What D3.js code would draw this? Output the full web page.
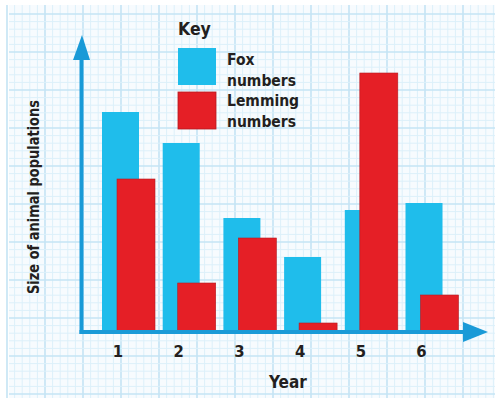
<!DOCTYPE html>
<html><head><meta charset="utf-8">
<script src="https://cdn.jsdelivr.net/npm/d3@7"></script>
<style>
html,body{margin:0;padding:0;background:#fff;}
svg{display:block;}
text{font-family:"DejaVu Sans Condensed","Liberation Sans Narrow",sans-serif;font-weight:bold;fill:#231f20;}
</style></head>
<body>
<script>
const years = ["1","2","3","4","5","6"];
const fox = [220,189,114,75,122,129];
const lemming = [153,49,94,9,259,37];
const legendLabels = [["Fox","numbers"],["Lemming","numbers"]];

const W=495,H=398;
const svg=d3.select("body").append("svg").attr("width",W).attr("height",H);

// graph paper background
const g0=svg.append("g");
g0.append("rect").attr("x",9).attr("y",5).attr("width",W-9).attr("height",H-5).attr("fill","#f7fbfe");
const minor=7.6;
for(let i=0;;i++){const x=7+i*minor;if(x>W)break;
  g0.append("line").attr("x1",x).attr("x2",x).attr("y1",5).attr("y2",H)
   .attr("stroke",i%5===0?"#c4e4f4":"#dcf0fa").attr("stroke-width",i%5===0?1.6:1);}
for(let i=0;;i++){const y=14+i*minor;if(y>H)break;
  g0.append("line").attr("x1",9).attr("x2",W).attr("y1",y).attr("y2",y)
   .attr("stroke",i%5===0?"#c4e4f4":"#dcf0fa").attr("stroke-width",i%5===0?1.6:1);}

const y=d3.scaleLinear().domain([0,300]).range([332,32]);
const x=d3.scaleBand().domain(years).range([102,458.5]).paddingInner(0.127).paddingOuter(0);
const bw=37, off=15;

const fc="#1fbdeb", lc="#e51f26", ac="#1a9ad7";

svg.append("g").selectAll("rect").data(years).join("rect")
  .attr("x",d=>x(d)).attr("width",bw)
  .attr("y",(d,i)=>y(fox[i])).attr("height",(d,i)=>y(0)-y(fox[i]))
  .attr("fill",fc);
svg.append("g").selectAll("rect").data(years).join("rect")
  .attr("x",d=>x(d)+off).attr("width",bw+1)
  .attr("y",(d,i)=>y(lemming[i])).attr("height",(d,i)=>y(0)-y(lemming[i]))
  .attr("fill",lc).attr("stroke","#b51b22").attr("stroke-width",0.6);

// axes
const ax=svg.append("g");
ax.append("line").attr("x1",81.5).attr("x2",81.5).attr("y1",y(0)+2).attr("y2",55).attr("stroke",ac).attr("stroke-width",4);
ax.append("path").attr("d","M82,35 L73,60 L90,60 Z").attr("fill",ac);
ax.append("line").attr("x1",79.5).attr("x2",468).attr("y1",y(0)).attr("y2",y(0)).attr("stroke",ac).attr("stroke-width",4);
ax.append("path").attr("d",`M488,${y(0)} L463,${y(0)-10} L463,${y(0)+10} Z`).attr("fill",ac);

// tick labels
svg.append("g").selectAll("text").data(years).join("text")
  .attr("x",d=>x(d)+off+1).attr("y",357).attr("text-anchor","middle")
  .attr("font-size",16.5).text(d=>d);

svg.append("text").attr("x",288).attr("y",388).attr("text-anchor","middle").attr("font-size",17).text("Year");
svg.append("text").attr("transform","translate(39,197) rotate(-90)").attr("text-anchor","middle")
  .attr("font-size",15).attr("textLength",194).attr("lengthAdjust","spacingAndGlyphs").text("Size of animal populations");

// legend
svg.append("text").attr("x",178).attr("y",35).attr("font-size",17.5).text("Key");
const cols=[fc,lc];
legendLabels.forEach((lab,i)=>{
  const yy=48+i*44;
  svg.append("rect").attr("x",178).attr("y",yy).attr("width",38).attr("height",37)
    .attr("fill",cols[i]).attr("stroke",i===1?"#b51b22":"none").attr("stroke-width",0.8);
  lab.forEach((t,j)=>{
    svg.append("text").attr("x",227).attr("y",[65,86,106,127][i*2+j]).attr("font-size",15.5).text(t);
  });
});
</script>
</body></html>
